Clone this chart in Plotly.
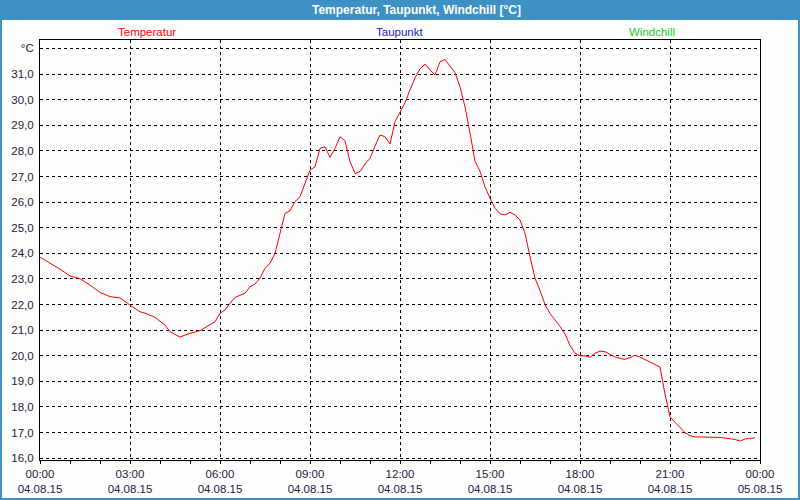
import plotly.graph_objects as go

times = [
    "00:00", "00:20", "00:40", "01:00", "01:20", "01:40", "01:50", "02:00", "02:20", "02:40",
    "03:00", "03:20", "03:30", "03:50", "04:10", "04:20", "04:40", "04:50", "05:00", "05:20",
    "05:40", "05:50", "06:00", "06:10", "06:20", "06:30", "06:50", "07:00", "07:10", "07:20",
    "07:30", "07:40", "07:50", "08:00", "08:10", "08:20", "08:30", "08:40", "09:00", "09:10",
    "09:20", "09:30", "09:40", "09:50", "10:00", "10:10", "10:20", "10:30", "10:40", "10:50",
    "11:00", "11:10", "11:20", "11:30", "11:40", "11:50", "12:00", "12:10", "12:20", "12:30",
    "12:40", "12:50", "13:00", "13:10", "13:20", "13:30", "13:40", "13:50", "14:00", "14:10",
    "14:20", "14:30", "14:40", "14:50", "15:00", "15:10", "15:20", "15:30", "15:40", "15:50",
    "16:00", "16:10", "16:20", "16:30", "16:40", "16:50", "17:00", "17:10", "17:20", "17:30",
    "17:40", "17:50", "18:00", "18:10", "18:20", "18:30", "18:40", "18:50", "19:00", "19:10",
    "19:20", "19:30", "19:40", "19:50", "20:00", "20:10", "20:20", "20:30", "20:40", "20:50",
    "21:00", "21:10", "21:20", "21:30", "21:40", "21:50", "22:00", "22:10", "22:20", "22:30",
    "22:40", "22:50", "23:00", "23:10", "23:20", "23:30", "23:40", "23:50",
]
temperatur = [
    23.85, 23.63, 23.38, 23.12, 23.01, 22.76, 22.63, 22.47, 22.31, 22.26,
    21.98, 21.72, 21.66, 21.50, 21.20, 20.94, 20.73, 20.81, 20.88, 20.98,
    21.20, 21.33, 21.66, 21.79, 22.05, 22.28, 22.44, 22.70, 22.80, 23.03,
    23.42, 23.61, 24.00, 24.80, 25.56, 25.66, 26.02, 26.21, 27.25, 27.38,
    28.10, 28.16, 27.75, 28.10, 28.55, 28.40, 27.58, 27.12, 27.19, 27.49,
    27.71, 28.19, 28.62, 28.55, 28.27, 29.14, 29.53, 29.88, 30.38, 30.85,
    31.20, 31.39, 31.16, 30.96, 31.48, 31.57, 31.31, 31.05, 30.50, 29.72,
    28.70, 27.60, 27.20, 26.60, 26.15, 25.76, 25.54, 25.50, 25.60, 25.50,
    25.30, 24.78, 23.87, 23.03, 22.55, 22.00, 21.65, 21.40, 21.15, 20.85,
    20.40, 20.10, 20.00, 20.00, 19.94, 20.10, 20.18, 20.16, 20.06, 19.95,
    19.90, 19.86, 19.93, 20.02, 19.95, 19.85, 19.75, 19.63, 19.56, 18.50,
    17.62, 17.40, 17.18, 17.00, 16.88, 16.83, 16.83, 16.83, 16.82, 16.82,
    16.81, 16.79, 16.77, 16.73, 16.67, 16.75, 16.77, 16.80,
]

x_tick_vals = ["2015-08-04 00:00", "2015-08-04 03:00", "2015-08-04 06:00", "2015-08-04 09:00",
               "2015-08-04 12:00", "2015-08-04 15:00", "2015-08-04 18:00", "2015-08-04 21:00",
               "2015-08-05 00:00"]
x_tick_text = ["00:00<br>04.08.15", "03:00<br>04.08.15", "06:00<br>04.08.15", "09:00<br>04.08.15",
               "12:00<br>04.08.15", "15:00<br>04.08.15", "18:00<br>04.08.15", "21:00<br>04.08.15",
               "00:00<br>05.08.15"]
y_tick_vals = list(range(16, 33))
y_tick_text = ["16,0", "17,0", "18,0", "19,0", "20,0", "21,0", "22,0", "23,0", "24,0",
               "25,0", "26,0", "27,0", "28,0", "29,0", "30,0", "31,0", "°C"]

title_text = "Temperatur, Taupunkt, Windchill [°C]"
series_names = ["Temperatur", "Taupunkt", "Windchill"]
series_colors = ["#ff0000", "#2020e0", "#22cc22"]

x = ["2015-08-04 " + t for t in times]

W, H = 800, 500
L, R, T, B = 40, 40, 40, 40
PW, PH = W - L - R, H - T - B

def px_x(px):
    return (px - L) / PW

def px_y(py):
    return 1 + (T - py) / PH

fig = go.Figure()
fig.add_trace(go.Scatter(x=x, y=temperatur, mode="lines",
                         line=dict(color=series_colors[0], width=1),
                         name=series_names[0], hoverinfo="x+y"))

font_main = "Liberation Sans, Arial, sans-serif"
tick_color = "#1c1c40"

fig.update_layout(
    width=W, height=H,
    margin=dict(l=L, r=R, t=T, b=B, autoexpand=False),
    paper_bgcolor="#fdfefd",
    plot_bgcolor="#fdfefd",
    showlegend=False,
    font=dict(family=font_main, size=11, color=tick_color),
    xaxis=dict(
        type="date", automargin=False,
        range=["2015-08-04 00:00", "2015-08-05 00:00"],
        tickmode="array", tickvals=x_tick_vals, ticktext=x_tick_text,
        showgrid=True, gridcolor="#000000", gridwidth=1, griddash="3px,3px",
        showline=True, linecolor="#000000", linewidth=1, mirror=True,
        ticks="outside", ticklen=3, tickcolor="#000000",
        minor=dict(dtick=3600000, ticks="outside", ticklen=3, tickcolor="#000000", showgrid=False),
        tickfont=dict(family=font_main, size=11.5, color=tick_color),
        zeroline=False, fixedrange=True,
    ),
    yaxis=dict(
        automargin=False,
        range=[15.93, 32.33],
        tickmode="array", tickvals=y_tick_vals, ticktext=y_tick_text,
        showgrid=True, gridcolor="#000000", gridwidth=1, griddash="3px,3px",
        showline=True, linecolor="#000000", linewidth=1, mirror=True,
        ticks="", ticklabelstandoff=3,
        tickfont=dict(family=font_main, size=11.5, color=tick_color),
        zeroline=False, fixedrange=True,
    ),
    shapes=[
        dict(type="rect", xref="paper", yref="paper",
             x0=px_x(0), x1=px_x(W), y0=px_y(20), y1=px_y(0),
             fillcolor="#3d91c4", line=dict(width=0), layer="below"),
        dict(type="rect", xref="paper", yref="paper",
             x0=px_x(0), x1=px_x(W), y0=px_y(H), y1=px_y(0),
             fillcolor="rgba(0,0,0,0)", line=dict(color="#3d91c4", width=4)),
    ],
    annotations=[
        dict(text="<b>" + title_text + "</b>", xref="paper", yref="paper",
             x=px_x(416), y=px_y(10), xanchor="center", yanchor="middle",
             showarrow=False, font=dict(family=font_main, size=12, color="#ffffff")),
        dict(text=series_names[0], xref="paper", yref="paper",
             x=px_x(147), y=px_y(32), xanchor="center", yanchor="middle",
             showarrow=False, font=dict(family=font_main, size=11.5, color=series_colors[0])),
        dict(text=series_names[1], xref="paper", yref="paper",
             x=px_x(399), y=px_y(32), xanchor="center", yanchor="middle",
             showarrow=False, font=dict(family=font_main, size=11.5, color=series_colors[1])),
        dict(text=series_names[2], xref="paper", yref="paper",
             x=px_x(652), y=px_y(32), xanchor="center", yanchor="middle",
             showarrow=False, font=dict(family=font_main, size=11.5, color=series_colors[2])),
    ],
)

fig.write_html("out.html", config={"displayModeBar": False},
               post_script="document.body.style.margin='0';document.body.style.overflow='hidden';")
